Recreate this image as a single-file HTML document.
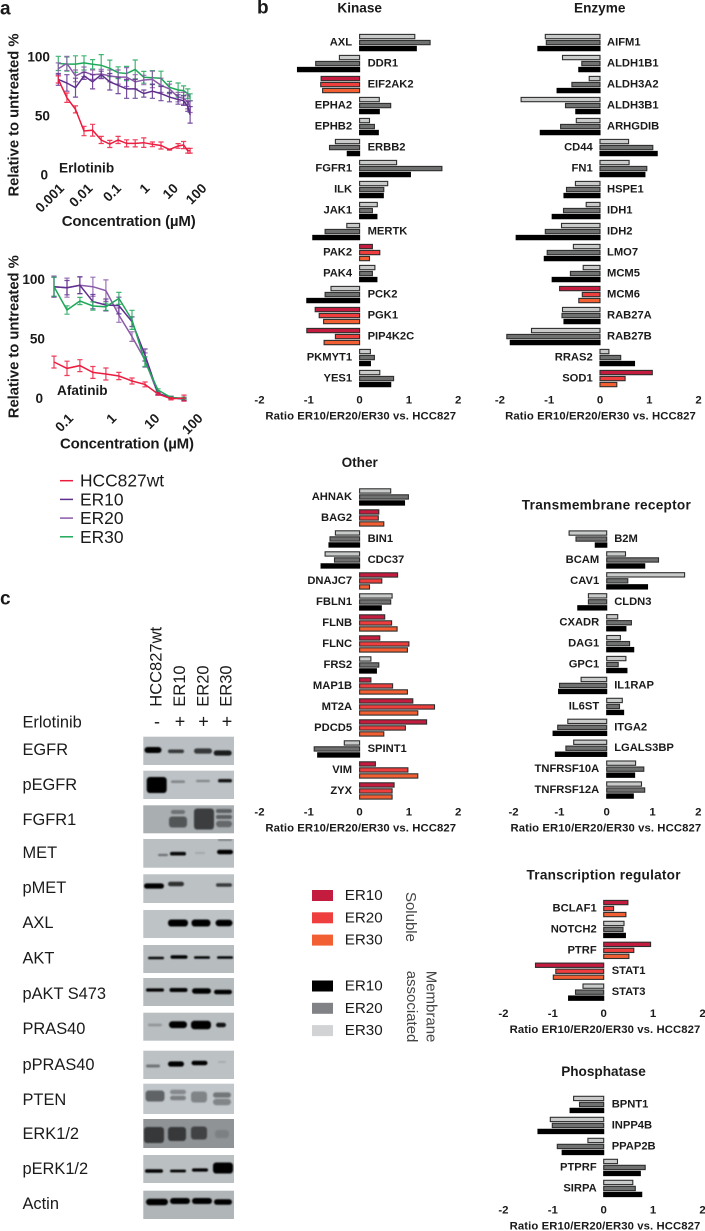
<!DOCTYPE html>
<html lang="en">
<head>
<meta charset="utf-8">
<title>EGFR TKI resistance figure</title>
<style>
html,body{margin:0;padding:0;background:#fff;width:705px;height:1231px;overflow:hidden}
svg{display:block;font-family:"Liberation Sans",sans-serif}
</style>
</head>
<body>
<svg id="figure" xmlns="http://www.w3.org/2000/svg" width="705" height="1231" viewBox="0 0 705 1231">
<defs>
<filter id="soft" x="-40%" y="-80%" width="180%" height="260%"><feGaussianBlur stdDeviation="0.8"/></filter>
</defs>
</svg>
<script>
// ---------- Panel a data ----------
const erlotinibConc = [0.001,0.002,0.004,0.008,0.016,0.032,0.064,0.125,0.25,0.5,1,2,4,8,16,25,35,42];
const erlotinibWt   = [81,65.5,55.6,37.3,38,29.7,26.3,29.7,26.8,26.8,27.4,26,25,21.5,24.6,25.4,20.6,20.6];
const erlotinibWtErr= [3,4,3,4,5,3,3,3,3,3,4,2,3,0.5,2,3,2,2];
const erlotinibEr10 = [81,78,74,84,79,85,79,76,73,73,69,71,69,66,64,63,58,51];
const erlotinibEr10Err=[5,7,8,3,6,3,7,7,8,8,3,6,6,4,4,4,4,7];
const erlotinibEr20 = [90,94.6,84,87.5,85,85.6,84,83,83,79,80.5,81,76,73,66,65,62,58];
const erlotinibEr20Err=[5,6,5,4,4,4,5,6,8,6,4,7,6,4,4,5,6,5];
const erlotinibEr30 = [94.6,94,94,95,93.8,93,90.4,86.7,86,89.5,82.8,82.5,82,74.3,72,71.5,69,65.8];
const erlotinibEr30Err=[6,6,7,6,4,9,7,5,6,8,5,6,6,5,6,4,4,3];
const erlotinibXTicks=[0.001,0.01,0.1,1,10,100];
const erlotinibXTickLabels=["0.001","0.01","0.1","1","10","100"];

const afatinibConc = [0.049,0.098,0.195,0.39,0.78,1.56,3.125,6.25,12.5,25,50];
const afatinibWt   = [30.7,25.4,27.7,22,20.7,19,14.8,12,3.9,0,0.5];
const afatinibWtErr= [5,6,5,5,5,3,2.5,2,1,1,2.5];
const afatinibEr10 = [93.8,93,95,81.3,78.5,78,64.5,36.6,4.5,1,-0.5];
const afatinibEr10Err=[8,6,7,6,5,7,4,5,1,1,1];
const afatinibEr20 = [93.8,93,95,93.8,90.5,70,52,32.4,3.9,1,-0.5];
const afatinibEr20Err=[9,8,7,8,9,6,4,6,1,1,1];
const afatinibEr30 = [93.8,74.3,81.8,77.6,77,84,66,31,7.3,1,0.3];
const afatinibEr30Err=[8,3.5,3,3.5,3,5,8,4,1,1,1];
const afatinibXTicks=[0.1,1,10,100];
const afatinibXTickLabels=["0.1","1","10","100"];
const yTicksA=[0,50,100];
const lineLegendNames=["HCC827wt","ER10","ER20","ER30"];

// ---------- Panel b data (top to bottom in each group) ----------
const ratioTicks=[-2,-1,0,1,2];

const kinaseGenes=["AXL","DDR1","EIF2AK2","EPHA2","EPHB2","ERBB2","FGFR1","ILK","JAK1","MERTK","PAK2","PAK4","PCK2","PGK1","PIP4K2C","PKMYT1","YES1"];
const kinaseTop=[1.12,-0.41,-0.78,0.40,0.2,-0.49,0.75,0.57,0.36,-0.26,0.26,0.31,-0.58,-0.9,-1.07,0.22,0.41];
const kinaseMid=[1.43,-0.89,-0.79,0.63,0.3,-0.61,1.67,0.49,0.26,-0.70,0.41,0.26,-0.7,-0.82,-0.49,0.3,0.69];
const kinaseBot=[1.15,-1.26,-0.75,0.40,0.38,-0.25,1.03,0.48,0.35,-0.95,0.2,0.35,-1.07,-0.73,-0.72,0.22,0.63];
const kinaseSoluble=["EIF2AK2","PAK2","PGK1","PIP4K2C"];

const enzymeGenes=["AIFM1","ALDH1B1","ALDH3A2","ALDH3B1","ARHGDIB","CD44","FN1","HSPE1","IDH1","IDH2","LMO7","MCM5","MCM6","RAB27A","RAB27B","RRAS2","SOD1"];
const enzymeTop=[-1.11,-0.76,-0.22,-1.6,-0.48,0.58,0.59,-0.5,-0.28,-0.78,-0.54,-0.34,-0.82,-0.76,-1.39,0.18,1.06];
const enzymeMid=[-1.09,-0.37,-0.57,-0.7,-0.8,1.07,0.95,-0.68,-0.74,-1.11,-1.07,-0.6,-0.36,-0.77,-1.89,0.42,0.51];
const enzymeBot=[-1.26,-0.43,-0.87,-0.49,-1.21,1.16,0.91,-0.73,-0.97,-1.7,-1.13,-0.97,-0.43,-0.73,-1.82,0.7,0.34];
const enzymeSoluble=["MCM6","SOD1"];

const otherGenes=["AHNAK","BAG2","BIN1","CDC37","DNAJC7","FBLN1","FLNB","FLNC","FRS2","MAP1B","MT2A","PDCD5","SPINT1","VIM","ZYX"];
const otherTop=[0.63,0.39,-0.49,-0.7,0.77,0.66,0.51,0.41,0.23,0.23,1.08,1.36,-0.31,0.32,0.7];
const otherMid=[0.99,0.38,-0.6,-0.51,0.45,0.63,0.65,1.0,0.39,0.67,1.52,0.93,-0.92,0.98,0.66];
const otherBot=[0.91,0.49,-0.62,-0.78,0.2,0.44,0.76,0.97,0.34,0.97,1.18,0.49,-0.85,1.18,0.66];
const otherSoluble=["BAG2","DNAJC7","FLNB","FLNC","MAP1B","MT2A","PDCD5","VIM","ZYX"];

const tmGenes=["B2M","BCAM","CAV1","CLDN3","CXADR","DAG1","GPC1","IL1RAP","IL6ST","ITGA2","LGALS3BP","TNFRSF10A","TNFRSF12A"];
const tmTop=[-0.82,0.41,1.7,-0.4,0.24,0.3,0.42,-0.56,0.34,-0.85,-0.72,0.63,0.76];
const tmMid=[-0.67,1.13,0.46,-0.4,0.54,0.5,0.25,-1.03,0.28,-1.07,-0.89,0.81,0.83];
const tmBot=[-0.25,0.83,0.89,-0.63,0.42,0.59,0.44,-1.05,0.37,-1.17,-1.12,0.61,0.58];
const tmSoluble=[];

const trGenes=["BCLAF1","NOTCH2","PTRF","STAT1","STAT3"];
const trTop=[0.49,0.41,0.95,-1.38,-0.42];
const trMid=[0.2,0.39,0.61,-0.97,-0.57];
const trBot=[0.45,0.44,0.51,-1.02,-0.71];
const trSoluble=["BCLAF1","PTRF","STAT1"];

const phGenes=["BPNT1","INPP4B","PPAP2B","PTPRF","SIRPA"];
const phTop=[-0.61,-1.08,-0.32,0.28,0.59];
const phMid=[-0.49,-1.04,-0.94,0.84,0.64];
const phBot=[-0.68,-1.33,-0.84,0.74,0.77];
const phSoluble=[];

const swatchSoluble=["#c41c3f","#ee3e3e","#f15f33"];
const swatchMembrane=["#000000","#808285","#d1d3d4"];
const blotNames=["EGFR","pEGFR","FGFR1","MET","pMET","AXL","AKT","pAKT S473","PRAS40","pPRAS40","PTEN","ERK1/2","pERK1/2","Actin"];

// ---------- Helpers ----------
const NS="http://www.w3.org/2000/svg";
const root=document.getElementById("figure");
function make(tag,attrs,parent){
  const el=document.createElementNS(NS,tag);
  for(const k in attrs){el.setAttribute(k,attrs[k]);}
  (parent||root).appendChild(el);
  return el;
}
function label(txt,x,y,size,weight,anchor,parent,extra){
  const el=make("text",Object.assign({x:x,y:y,"font-size":size,"font-weight":weight,"text-anchor":anchor,"dominant-baseline":"central",fill:"#1a1a1a"},extra||{}),parent);
  el.textContent=txt;
  
  return el;
}
function kebab(s){return String(s).toLowerCase().replace(/[^a-z0-9]+/g,"-").replace(/^-|-$/g,"");}

// ---------- Panel letters ----------
const letterA=label("a",0,9,19,"bold","start");

const letterB=label("b",257,8,19,"bold","start");

const letterC=label("c",0,599,19,"bold","start");


// ---------- Dose response ----------
const colorWt="#ec1c3f",colorEr10="#5f2f8e",colorEr20="#8a5ba8",colorEr30="#1fa85a";

function drawDose(cfg){
  const g=make("g",{});
  
  
  const xScale=c=>cfg.x0+(Math.log10(c)-Math.log10(cfg.c0))*cfg.decade;
  const yScale=v=>cfg.y0-v*cfg.perUnit;
  cfg.series.forEach(s=>{
    const sg=make("g",{fill:"none",stroke:s.color},g);
    
    
    const pts=cfg.conc.map((c,i)=>xScale(c).toFixed(1)+","+yScale(s.values[i]).toFixed(1)).join(" ");
    const line=make("polyline",{points:pts,"stroke-width":1.5},sg);
    
    
    cfg.conc.forEach((c,i)=>{
      const x=xScale(c),lo=yScale(s.values[i]-s.errs[i]),hi=yScale(s.values[i]+s.errs[i]);
      const err=make("path",{d:`M${x.toFixed(1)} ${lo.toFixed(1)}V${hi.toFixed(1)}M${(x-2.6).toFixed(1)} ${lo.toFixed(1)}h5.2M${(x-2.6).toFixed(1)} ${hi.toFixed(1)}h5.2`,"stroke-width":1.2,opacity:0.85},sg);
      
      
    });
  });
  yTicksA.forEach(t=>{
    const el=label(String(t),cfg.yTickX-(t===0?2:0),yScale(t),13.6,"bold","end",g);
    
  });
  cfg.ticks.forEach((t,i)=>{
    const x=xScale(t)+3.5,y=cfg.xTickY;
    const el=label(cfg.tickLabels[i],x,y,13.6,"bold","end",g,{transform:`rotate(-45 ${x.toFixed(1)} ${y})`});
    
  });
  const xt=label("Concentration (µM)",cfg.xTitleX,cfg.xTitleY,15,"bold","middle",g,{textLength:134,lengthAdjust:"spacing"});
  
  const yt=label("Relative to untreated %",14.5,cfg.yTitleY,14.8,"bold","middle",g,{transform:`rotate(-90 14.5 ${cfg.yTitleY})`,textLength:163,lengthAdjust:"spacing"});
  
  const dn=label(cfg.drug,cfg.drugX,cfg.drugY,13.6,"bold","start",g);
  
}

drawDose({name:"erlotinib-chart",drug:"Erlotinib",drugX:59,drugY:168,
  conc:erlotinibConc,c0:0.001,x0:58.3,decade:28.5,y0:175,perUnit:1.18,
  ticks:erlotinibXTicks,tickLabels:erlotinibXTickLabels,xTickY:186,yTickX:50,
  xTitleX:128.7,xTitleY:221.7,yTitleY:115,
  series:[
    {key:"er30",color:colorEr30,values:erlotinibEr30,errs:erlotinibEr30Err},
    {key:"er20",color:colorEr20,values:erlotinibEr20,errs:erlotinibEr20Err},
    {key:"er10",color:colorEr10,values:erlotinibEr10,errs:erlotinibEr10Err},
    {key:"hcc827wt",color:colorWt,values:erlotinibWt,errs:erlotinibWtErr}
  ]});
drawDose({name:"afatinib-chart",drug:"Afatinib",drugX:57,drugY:390.7,
  conc:afatinibConc,c0:0.049,x0:54,decade:43.2,y0:398.7,perUnit:1.194,
  ticks:afatinibXTicks,tickLabels:afatinibXTickLabels,xTickY:416,yTickX:45,
  xTitleX:127,xTitleY:444,yTitleY:336.7,
  series:[
    {key:"er20",color:colorEr20,values:afatinibEr20,errs:afatinibEr20Err},
    {key:"er10",color:colorEr10,values:afatinibEr10,errs:afatinibEr10Err},
    {key:"er30",color:colorEr30,values:afatinibEr30,errs:afatinibEr30Err},
    {key:"hcc827wt",color:colorWt,values:afatinibWt,errs:afatinibWtErr}
  ]});

// line legend
const lineLegend=make("g",{});


[colorWt,colorEr10,colorEr20,colorEr30].forEach((col,i)=>{
  const y=480.7+i*18.7;
  const ln=make("line",{x1:60,x2:73,y1:y,y2:y,stroke:col,"stroke-width":1.5},lineLegend);
  
  
  const t=label(lineLegendNames[i],80,y,17.4,"normal","start",lineLegend);
  
});

// ---------- Ratio bar panels ----------
function drawPanel(cfg){
  const g=make("g",{});
  
  
  const xScale=v=>cfg.zero+v*cfg.unit;
  const tt=label(cfg.title,cfg.titleX,cfg.titleY,13.6,"bold","middle",g,cfg.titleLen?{textLength:cfg.titleLen,lengthAdjust:"spacing"}:{});
  
  cfg.genes.forEach((gene,i)=>{
    const cy=cfg.y0+i*cfg.step;
    const soluble=cfg.soluble.includes(gene);
    const fills=soluble?[swatchSoluble[0],swatchSoluble[1],swatchSoluble[2]]:["#c8cbca","#6f7070","#000000"];
    const vals=[cfg.top[i],cfg.mid[i],cfg.bot[i]];
    const rowLabels=soluble?["er10","er20","er30"]:["er30","er20","er10"];
    vals.forEach((v,j)=>{
      const x1=xScale(Math.min(v,0)),x2=xScale(Math.max(v,0));
      const bar=make("rect",{x:x1.toFixed(1),y:(cy-8.1+j*6).toFixed(1),width:(x2-x1).toFixed(1),height:4.3,fill:fills[j],stroke:j===2&&!soluble?"#000":"#2e2e2e","stroke-width":1.1},g);
      
      
    });
    const mean=(vals[0]+vals[1]+vals[2])/3;
    const t=mean<0
      ?label(gene,cfg.zero+cfg.labelRight,cy,11.2,"bold","start",g)
      :label(gene,cfg.zero-cfg.labelLeft,cy,11.2,"bold","end",g);
    
  });
  ratioTicks.forEach(tv=>{
    const el=label(String(tv),xScale(tv)-(tv<0?1.5:0),cfg.tickY,11.4,"bold","middle",g);
    
  });
  const at=label("Ratio ER10/ER20/ER30 vs. HCC827",cfg.axisX,cfg.tickY+16,11.3,"bold","middle",g,{textLength:190.7,lengthAdjust:"spacing"});
  
}

drawPanel({title:"Kinase",titleX:359.7,titleY:8,genes:kinaseGenes,top:kinaseTop,mid:kinaseMid,bot:kinaseBot,soluble:kinaseSoluble,
  zero:359.6,unit:49.3,y0:42.5,step:21,tickY:400.7,axisX:360.7,labelRight:8,labelLeft:7.5});
drawPanel({title:"Enzyme",titleX:599.7,titleY:8,genes:enzymeGenes,top:enzymeTop,mid:enzymeMid,bot:enzymeBot,soluble:enzymeSoluble,
  zero:600,unit:49.3,y0:42.5,step:21,tickY:400.7,axisX:600.5,labelRight:7,labelLeft:7.3});
drawPanel({title:"Other",titleX:359.7,titleY:462.7,genes:otherGenes,top:otherTop,mid:otherMid,bot:otherBot,soluble:otherSoluble,
  zero:359.6,unit:49.3,y0:496.9,step:21,tickY:812.7,axisX:360.7,labelRight:8,labelLeft:7.5});
drawPanel({title:"Transmembrane receptor",titleX:606.3,titleY:505,titleLen:169,genes:tmGenes,top:tmTop,mid:tmMid,bot:tmBot,soluble:tmSoluble,
  zero:606.7,unit:45.8,y0:539,step:20.92,tickY:812.7,axisX:605.8,labelRight:7.5,labelLeft:7.5});
drawPanel({title:"Transcription regulator",titleX:603.5,titleY:875,titleLen:154,genes:trGenes,top:trTop,mid:trMid,bot:trBot,soluble:trSoluble,
  zero:603.7,unit:49.4,y0:908.5,step:20.9,tickY:1014,axisX:605,labelRight:8,labelLeft:7});
drawPanel({title:"Phosphatase",titleX:603.5,titleY:1071.7,genes:phGenes,top:phTop,mid:phMid,bot:phBot,soluble:phSoluble,
  zero:603.7,unit:49.4,y0:1104.4,step:21,tickY:1210.7,axisX:605,labelRight:8,labelLeft:7});

// ---------- Swatch legend ----------
const swatches=make("g",{});


["ER10","ER20","ER30"].forEach((nm,i)=>{
  const ys=895.5+i*22.3;
  const r1=make("rect",{x:312,y:ys-5.5,width:21,height:11,fill:swatchSoluble[i]},swatches);
  
  
  const t1=label(nm,344.7,ys,15.2,"normal","start",swatches);
  
  const ym=986+i*22.3;
  const r2=make("rect",{x:312,y:ym-5.5,width:21,height:11,fill:swatchMembrane[i]},swatches);
  
  
  const t2=label(nm,344.7,ym,15.2,"normal","start",swatches);
  
});
const solT=label("Soluble",410.7,942,15,"normal","start",swatches,{transform:"rotate(90 410.7 942)","text-anchor":"end",fill:"#444"});

const memT=label("Membrane",431,970.7,15,"normal","start",swatches,{transform:"rotate(90 431 970.7)",fill:"#444"});

const assT=label("associated",411.7,970.7,15,"normal","start",swatches,{transform:"rotate(90 411.7 970.7)",fill:"#444"});


// ---------- Panel c western blots ----------
const blotGroup=make("g",{});


[["HCC827wt",156.7],["ER10",180],["ER20",203.3],["ER30",226.7]].forEach(h=>{
  const t=label(h[0],h[1],706.7,16.5,"normal","start",blotGroup,{transform:`rotate(-90 ${h[1]} 706.7)`});
  
});
const erlo=label("Erlotinib",22.5,722.7,16.4,"normal","start",blotGroup);

[["-",157],["+",180],["+",203.5],["+",227]].forEach((s,i)=>{
  const t=label(s[0],s[1],721.5,18,"normal","middle",blotGroup);
  
});
function blot(idx,top,bottom,labelY,bg,bands){
  const nm=blotNames[idx];
  const g=make("g",{},blotGroup);
  
  
  const t=label(nm,22.5,labelY,16.4,"normal","start",g);
  
  const clip=make("clipPath",{id:"clip"+idx},g);
  make("rect",{x:143.3,y:top,width:90.7,height:bottom-top},clip);
  const r=make("rect",{x:143.3,y:top,width:90.7,height:bottom-top,fill:bg},g);
  
  
  const bg2=make("g",{"clip-path":`url(#clip${idx})`},g);
  bands.forEach((b,i)=>{
    const cx=b[0],cy=b[1],hw=b[2],hh=b[3];
    const e=make("rect",{x:cx-hw,y:cy-hh,width:2*hw,height:2*hh,rx:Math.min(hh,3.2),ry:Math.min(hh,3.2),fill:b[5]||"#050505",opacity:b[4]===undefined?1:b[4],filter:"url(#soft)"},bg2);
    
    
  });
}
blot(0,736.7,765,750,"#b9bfc2",[[153,750,8.5,3],[176,751.3,8,1.8,.7],[203,751,9,2.6,.7],[222.7,753,9,2.6,.85]]);
blot(1,770.7,799,785,"#bcc2c5",[[156.7,785,10,8],[178,781.7,7,1.3,.3],[203,781,7,1.1,.3],[225,780.7,7,1.7,.9]]);
blot(2,805.3,833.3,820,"#a9aeb1",[[178,812,7,2,.35],[178,822,9,5.5,.5],[204,819,10,10.5,.65],[224,811,8,2,.45],[224,817,8,2,.45],[224,824,8,3.2,.4]]);
blot(3,839,867.7,853,"#babfc2",[[163,855,5,1.1,.4],[178,853.7,8,1.8,.95],[200,853,5,1,.12],[225,852,8,2.2],[225,840,7,.7,.4]]);
blot(4,874.3,903,888,"#bcc1c4",[[154,886,10,2.6],[176,884,8,2.2,.75],[224,885,8,1.8,.7]]);
blot(5,910,938,923,"#bec3c6",[[178,923,10,3.5],[201,923,9.5,3.5],[224,923,8.5,3.2]]);
blot(6,945,973,958.7,"#b7bcbf",[[156,958,8,1.3,.95],[179,957,8.5,1.8],[202,957.5,8,1.3],[225,957.5,8,1.3]]);
blot(7,978,1006,994,"#b5babd",[[155,990,9,1.6],[178.5,990,9,2],[201.5,991,9.5,2.7],[223,992,9,2.2]]);
blot(8,1012.7,1040.7,1029,"#b9bec1",[[155,1025,7,1.4,.2],[178,1024.7,9,3.4],[201,1025,10,4.2],[221,1025,5,2.2,.9]]);
blot(9,1050.7,1079,1065,"#bcc1c4",[[153,1066,7,1.5,.4],[176,1064,8,2.6],[199.5,1063,8,2.2],[222,1062,4,1,.1]]);
blot(10,1083.7,1114,1100,"#c0c6ca",[[155,1096,9.5,5.5,.5],[178,1092,8,2.2,.3],[178,1098,8,2.2,.35],[199,1097,8,5.5,.33],[222,1095,9,2.6,.4],[222,1102,9,3.2,.32]]);
blot(11,1119,1148,1134,"#8f9396",[[154,1135,10,8,.62],[177,1134,9,7,.62],[199,1133,8,6.5,.55],[222,1134,7,4,.12]]);
blot(12,1155,1183,1169,"#babfc2",[[154,1171,9,1.8],[178,1171,8,1.4],[200,1170,8,1.6],[223,1168,10,5.5]]);
blot(13,1190.7,1219,1204,"#b0b5b8",[[157,1202,11,3.2],[180,1201,10,3],[202,1201,10,3],[223,1202,9,2.8]]);
</script>
</body>
</html>
